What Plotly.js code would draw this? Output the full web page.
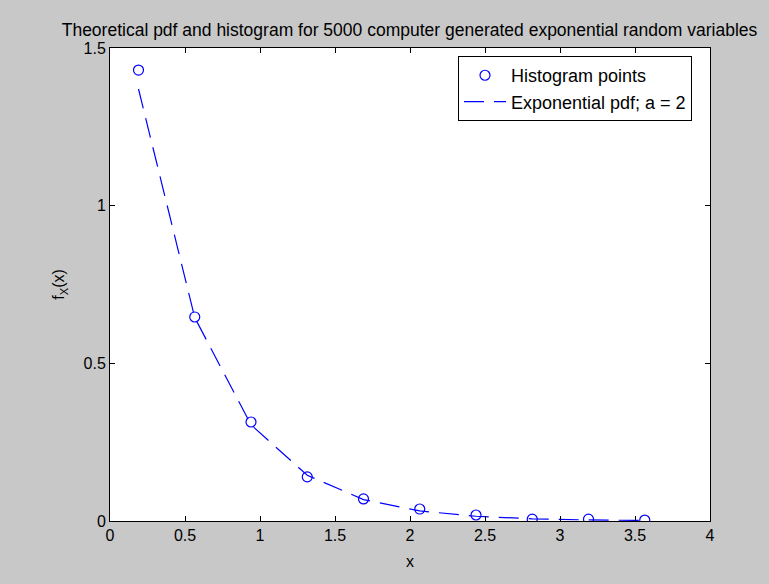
<!DOCTYPE html>
<html>
<head>
<meta charset="utf-8">
<script src="https://cdn.plot.ly/plotly-3.0.1.min.js"></script>
<style>html,body{margin:0;padding:0;background:#c8c8c8;}#chart{width:769px;height:584px;}</style>
</head>
<body>
<div id="chart"></div>
<script>
const binCenters = [0.19, 0.565, 0.94, 1.315, 1.69, 2.065, 2.44, 2.815, 3.19, 3.565];
const histValues = [1.43, 0.647, 0.314, 0.14, 0.07, 0.038, 0.019, 0.006, 0.006, 0.003];
const pdfValues = [1.37, 0.645, 0.305, 0.145, 0.068, 0.032, 0.015, 0.007, 0.0034, 0.0016];
const xTicks = [0, 0.5, 1, 1.5, 2, 2.5, 3, 3.5, 4];
const xTickLabels = ['0', '0.5', '1', '1.5', '2', '2.5', '3', '3.5', '4'];
const yTicks = [0, 0.5, 1, 1.5];
const yTickLabels = ['0', '0.5', '1', '1.5'];

const font = "'Liberation Sans', Arial, sans-serif";
const blue = '#0000ff';

const traces = [
  {
    x: binCenters, y: histValues, type: 'scatter', mode: 'markers',
    name: 'Histogram points',
    marker: {symbol: 'circle-open', size: 10, color: blue, line: {color: blue, width: 1.2}}
  },
  {
    x: binCenters, y: pdfValues, type: 'scatter', mode: 'lines',
    name: 'Exponential pdf; a = 2',
    line: {color: blue, width: 1.2, dash: '20px,10px'}
  }
];

const axisCommon = {
  showgrid: false, zeroline: false, showline: true, linecolor: '#000', linewidth: 1,
  mirror: 'ticks', ticks: 'inside', ticklen: 5, tickcolor: '#000', tickwidth: 1,
  tickfont: {family: font, size: 16, color: '#000'}
};

const layout = {
  width: 769, height: 584,
  paper_bgcolor: '#c8c8c8', plot_bgcolor: '#ffffff',
  margin: {l: 110, r: 59, t: 48, b: 63},
  showlegend: true,
  title: {text: 'Theoretical pdf and histogram for 5000 computer generated exponential random variables',
    font: {family: font, size: 17.5, color: '#000'}, x: 0.5325, xanchor: 'center', y: 0.948, yanchor: 'middle'},
  xaxis: Object.assign({}, axisCommon, {
    range: [0, 4], tickvals: xTicks, ticktext: xTickLabels,
    title: {text: 'x', font: {family: font, size: 16, color: '#000'}, standoff: 12}
  }),
  yaxis: Object.assign({}, axisCommon, {
    range: [0, 1.5], tickvals: yTicks, ticktext: yTickLabels,
    title: {text: 'f<sub>X</sub>(x)', font: {family: font, size: 16, color: '#000'}, standoff: 14}
  }),
  legend: {
    x: 0.58, y: 0.983, xanchor: 'left', yanchor: 'top',
    bgcolor: '#ffffff', bordercolor: '#000', borderwidth: 1,
    font: {family: font, size: 18, color: '#000'},
    itemwidth: 42, tracegroupgap: 0
  }
};

Plotly.newPlot('chart', traces, layout, {displayModeBar: false, staticPlot: true});
</script>
</body>
</html>
